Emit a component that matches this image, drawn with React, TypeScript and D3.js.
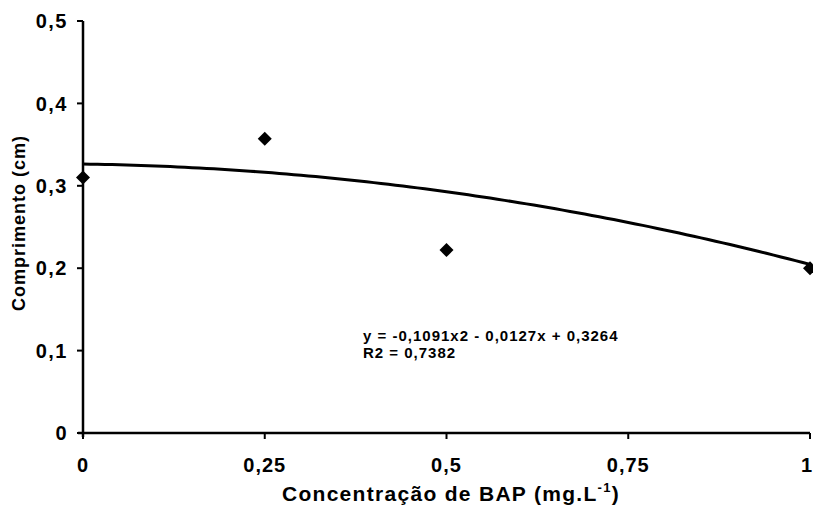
import React from "react";
import * as d3 from "d3";

const xTicks = [0, 0.25, 0.5, 0.75, 1];
const xTickLabels = ["0", "0,25", "0,5", "0,75", "1"];
const yTicks = [0, 0.1, 0.2, 0.3, 0.4, 0.5];
const yTickLabels = ["0", "0,1", "0,2", "0,3", "0,4", "0,5"];
const pointX = [0, 0.25, 0.5, 1];
const pointY = [0.31, 0.357, 0.222, 0.2];
const coefA = -0.1091;
const coefB = -0.0127;
const coefC = 0.3264;
const equationText = "y = -0,1091x2 - 0,0127x + 0,3264";
const r2Text = "R2 = 0,7382";

const W = 813;
const H = 515;
const FONT = "'Liberation Sans', Arial, sans-serif";

export default function App() {
  const x = d3.scaleLinear().domain([0, 1]).range([83, 810]);
  const y = d3.scaleLinear().domain([0, 0.5]).range([433, 21]);

  const curveXs = d3.range(0, 101).map((i) => i / 100);
  const line = d3
    .line<number>()
    .x((d) => x(d))
    .y((d) => y(coefA * d * d + coefB * d + coefC))
    .curve(d3.curveLinear);

  const diamond = (cx: number, cy: number, r: number) =>
    `M${cx},${cy - r}L${cx + r},${cy}L${cx},${cy + r}L${cx - r},${cy}Z`;

  return (
    <svg
      width={W}
      height={H}
      style={{ position: "absolute", left: 0, top: 0, background: "#fff" }}
      fontFamily={FONT}
    >
      <rect x={0} y={0} width={W} height={H} fill="#fff" />
      {/* axes */}
      <line x1={x(0)} y1={y(0.5)} x2={x(0)} y2={y(0) + 4} stroke="#000" strokeWidth={2.5} />
      <line x1={x(0) - 5} y1={y(0)} x2={x(1)} y2={y(0)} stroke="#000" strokeWidth={2.5} />
      {yTicks.map((t, i) => (
        <g key={"y" + i}>
          <line x1={x(0) - 6} x2={x(0)} y1={y(t)} y2={y(t)} stroke="#000" strokeWidth={2} />
          <text
            x={68}
            y={y(t)}
            dy="0.36em"
            textAnchor="end"
            fontSize={20}
            fontWeight="bold"
            letterSpacing={1.5}
          >
            {yTickLabels[i]}
          </text>
        </g>
      ))}
      {xTicks.map((t, i) => (
        <g key={"x" + i}>
          <line x1={x(t)} x2={x(t)} y1={y(0)} y2={y(0) + 6} stroke="#000" strokeWidth={2} />
          <text
            x={i === xTicks.length - 1 ? x(t) - 3 : x(t)}
            y={472}
            textAnchor="middle"
            fontSize={20}
            fontWeight="bold"
            letterSpacing={1}
          >
            {xTickLabels[i]}
          </text>
        </g>
      ))}
      {/* trend curve */}
      <path d={line(curveXs) || ""} fill="none" stroke="#000" strokeWidth={3} />
      {/* points */}
      {pointX.map((px, i) => (
        <path key={"p" + i} d={diamond(x(px), y(pointY[i]), 7)} fill="#000" />
      ))}
      {/* equation */}
      <text x={363} y={341} fontSize={15} fontWeight="bold" letterSpacing={1}>
        {equationText}
      </text>
      <text x={363} y={358} fontSize={15} fontWeight="bold" letterSpacing={1}>
        {r2Text}
      </text>
      {/* axis titles */}
      <text
        transform="translate(25,223) rotate(-90)"
        textAnchor="middle"
        fontSize={18}
        fontWeight="bold"
        letterSpacing={1}
      >
        Comprimento (cm)
      </text>
      <text x={451} y={501} textAnchor="middle" fontSize={21} fontWeight="bold" letterSpacing={1.3}>
        Concentração de BAP (mg.L
        <tspan fontSize={13} dy={-9}>-1</tspan>
        <tspan dy={9}>)</tspan>
      </text>
    </svg>
  );
}
